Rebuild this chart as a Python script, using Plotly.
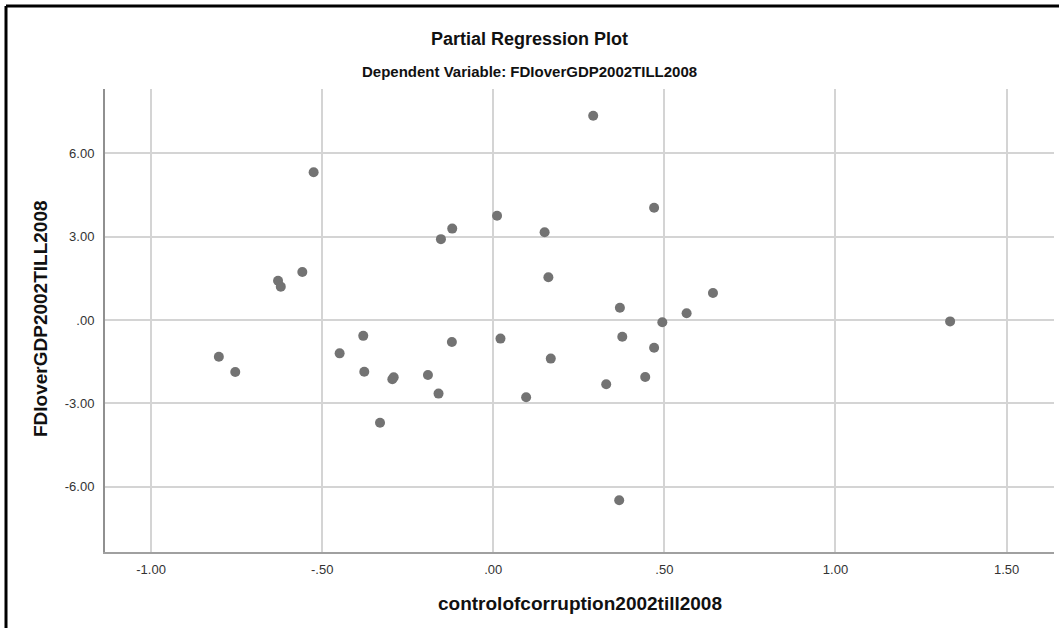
import plotly.graph_objects as go

# Data
x_vals = [-0.802, -0.754, -0.629, -0.621, -0.558, -0.525, -0.449, -0.380, -0.377, -0.331,
          -0.295, -0.291, -0.191, -0.160, -0.153, -0.120, -0.121, 0.011, 0.021, 0.096,
          0.150, 0.161, 0.168, 0.292, 0.330, 0.370, 0.368, 0.377, 0.444, 0.470,
          0.470, 0.494, 0.565, 0.642, 1.335]
y_vals = [-1.32, -1.87, 1.41, 1.20, 1.73, 5.32, -1.20, -0.57, -1.86, -3.70,
          -2.13, -2.06, -1.98, -2.65, 2.91, 3.29, -0.79, 3.75, -0.67, -2.78,
          3.16, 1.54, -1.39, 7.35, -2.31, 0.44, -6.49, -0.60, -2.05, 4.04,
          -1.00, -0.08, 0.24, 0.97, -0.05]

x_tickvals = [-1.0, -0.5, 0.0, 0.5, 1.0, 1.5]
x_ticktext = ["-1.00", "-.50", ".00", ".50", "1.00", "1.50"]
y_tickvals = [-6.0, -3.0, 0.0, 3.0, 6.0]
y_ticktext = ["-6.00", "-3.00", ".00", "3.00", "6.00"]

title_main = "Partial Regression Plot"
title_sub = "Dependent Variable: FDIoverGDP2002TILL2008"
x_title = "controlofcorruption2002till2008"
y_title = "FDIoverGDP2002TILL2008"

W, H = 1059, 628
ML, MR, MT, MB = 105, 5, 89, 76
PW = W - ML - MR
PH = H - MT - MB

def px_to_paper_x(px):
    return (px - ML) / PW

def px_to_paper_y(py):
    return (H - MB - py) / PH

FONT = "Liberation Sans, Arial, sans-serif"

fig = go.Figure()
fig.add_trace(go.Scatter(
    x=x_vals, y=y_vals, mode="markers",
    marker=dict(color="#737373", size=10, line=dict(width=0)),
    showlegend=False, hoverinfo="x+y",
))

fig.update_layout(
    width=W, height=H,
    margin=dict(l=ML, r=MR, t=MT, b=MB, pad=0),
    paper_bgcolor="white", plot_bgcolor="white",
    font=dict(family=FONT, color="#222"),
    showlegend=False,
)

fig.update_xaxes(
    range=[-1.1347, 1.6386], tickvals=x_tickvals, ticktext=x_ticktext,
    showgrid=True, gridcolor="#d4d4d4", gridwidth=1.5,
    showline=True, linecolor="#a0a0a0", linewidth=2,
    zeroline=False, ticks="", ticklen=0, ticklabelstandoff=4,
    tickfont=dict(size=13, color="#333", family=FONT),
)
fig.update_yaxes(
    range=[-8.351, 8.315], tickvals=y_tickvals, ticktext=y_ticktext,
    showgrid=True, gridcolor="#d4d4d4", gridwidth=1.5,
    showline=True, linecolor="#909090", linewidth=2,
    zeroline=False, ticks="", ticklen=0, ticklabelstandoff=6,
    tickfont=dict(size=13, color="#333", family=FONT),
)

annotations = [
    dict(text="<b>" + title_main + "</b>", x=px_to_paper_x(W / 2), y=px_to_paper_y(39),
         xref="paper", yref="paper", showarrow=False, xanchor="center", yanchor="middle",
         font=dict(size=18, color="#111", family=FONT)),
    dict(text="<b>" + title_sub + "</b>", x=px_to_paper_x(W / 2), y=px_to_paper_y(72),
         xref="paper", yref="paper", showarrow=False, xanchor="center", yanchor="middle",
         font=dict(size=15, color="#111", family=FONT)),
    dict(text="<b>" + x_title + "</b>", x=0.5, y=px_to_paper_y(603),
         xref="paper", yref="paper", showarrow=False, xanchor="center", yanchor="middle",
         font=dict(size=19, color="#111", family=FONT)),
    dict(text="<b>" + y_title + "</b>", x=px_to_paper_x(40), y=px_to_paper_y(319),
         xref="paper", yref="paper", showarrow=False, xanchor="center", yanchor="middle",
         textangle=-90, font=dict(size=19, color="#111", family=FONT)),
]
fig.update_layout(annotations=annotations)

# Outer frame: top and left edges
shapes = [
    dict(type="line", xref="paper", yref="paper",
         x0=px_to_paper_x(6), x1=px_to_paper_x(W + 5), y0=px_to_paper_y(6), y1=px_to_paper_y(6),
         line=dict(color="black", width=3)),
    dict(type="line", xref="paper", yref="paper",
         x0=px_to_paper_x(6), x1=px_to_paper_x(6), y0=px_to_paper_y(6), y1=px_to_paper_y(H + 5),
         line=dict(color="black", width=3)),
]
fig.update_layout(shapes=shapes)

fig.write_html("out.html")
